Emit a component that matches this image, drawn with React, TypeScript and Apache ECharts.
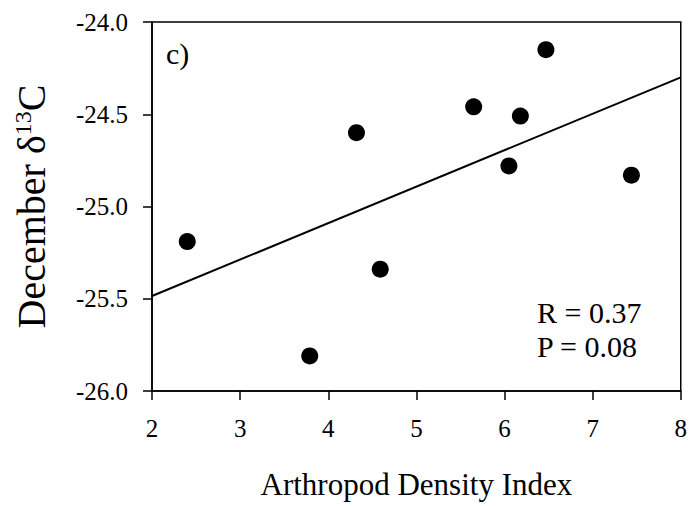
import React, { useEffect, useRef } from "react";
import * as echarts from "echarts";

const arthropodX = [2.4, 3.79, 4.32, 4.59, 5.65, 6.05, 6.18, 6.47, 7.44];
const decemberD13C = [-25.19, -25.81, -24.6, -25.34, -24.46, -24.78, -24.51, -24.15, -24.83];
const fitX = [2, 8];
const fitY = [-25.485, -24.3];
const statsLines = ["R = 0.37", "P = 0.08"];
const panelLabel = "c)";

const FONT = '"Liberation Serif", "Times New Roman", serif';

export default function App() {
  const ref = useRef<HTMLDivElement>(null);
  useEffect(() => {
    if (!ref.current) return;
    const chart = echarts.init(ref.current, null, { renderer: "svg" });
    const scatterData = arthropodX.map((x, i) => [x, decemberD13C[i]]);
    const lineData = fitX.map((x, i) => [x, fitY[i]]);
    chart.setOption({
      animation: false,
      backgroundColor: "#ffffff",
      grid: {
        left: 152,
        right: 9,
        top: 22,
        bottom: 115,
        show: true,
        borderColor: "#000",
        borderWidth: 1.5,
        backgroundColor: "transparent",
      },
      xAxis: {
        type: "value",
        min: 2,
        max: 8,
        interval: 1,
        name: "Arthropod Density Index",
        nameLocation: "middle",
        nameGap: 78,
        nameTextStyle: { fontFamily: FONT, fontSize: 31, color: "#000" },
        axisLine: { show: true, onZero: false, lineStyle: { color: "#000", width: 1.5 } },
        axisTick: { show: true, length: 9, inside: false, lineStyle: { color: "#000", width: 1.5 } },
        axisLabel: { fontFamily: FONT, fontSize: 25, color: "#000", margin: 25 },
        splitLine: { show: false },
      },
      yAxis: {
        type: "value",
        min: -26,
        max: -24,
        interval: 0.5,
        name: "{a|December δ}{s|13}{a|C}",
        nameLocation: "middle",
        nameGap: 101,
        nameRotate: 90,
        nameTextStyle: {
          fontFamily: FONT,
          color: "#000",
          rich: {
            a: { fontFamily: FONT, fontSize: 40, color: "#000" },
            s: { fontFamily: FONT, fontSize: 24, color: "#000", verticalAlign: "top" },
          },
        },
        axisLine: { show: true, onZero: false, lineStyle: { color: "#000", width: 1.5 } },
        axisTick: { show: true, length: 9, inside: false, lineStyle: { color: "#000", width: 1.5 } },
        axisLabel: {
          fontFamily: FONT,
          fontSize: 25,
          color: "#000",
          margin: 24,
          formatter: (v: number) => v.toFixed(1),
        },
        splitLine: { show: false },
      },
      graphic: [
        {
          type: "text",
          left: 166,
          top: 38,
          style: { text: panelLabel, font: `30px ${FONT}`, fill: "#000" },
        },
        {
          type: "text",
          left: 537,
          top: 295,
          style: { text: statsLines.join("\n"), font: `30px ${FONT}`, fill: "#000", lineHeight: 34 },
        },
      ],
      series: [
        {
          type: "line",
          data: lineData,
          symbol: "none",
          lineStyle: { color: "#000", width: 2 },
          silent: true,
          z: 2,
        },
        {
          type: "scatter",
          data: scatterData,
          symbol: "circle",
          symbolSize: 17,
          itemStyle: { color: "#000", opacity: 1 },
          z: 3,
        },
      ],
    });
    return () => chart.dispose();
  }, []);
  return (
    <div
      ref={ref}
      style={{ position: "fixed", left: 0, top: 0, width: 690, height: 506 }}
    />
  );
}
